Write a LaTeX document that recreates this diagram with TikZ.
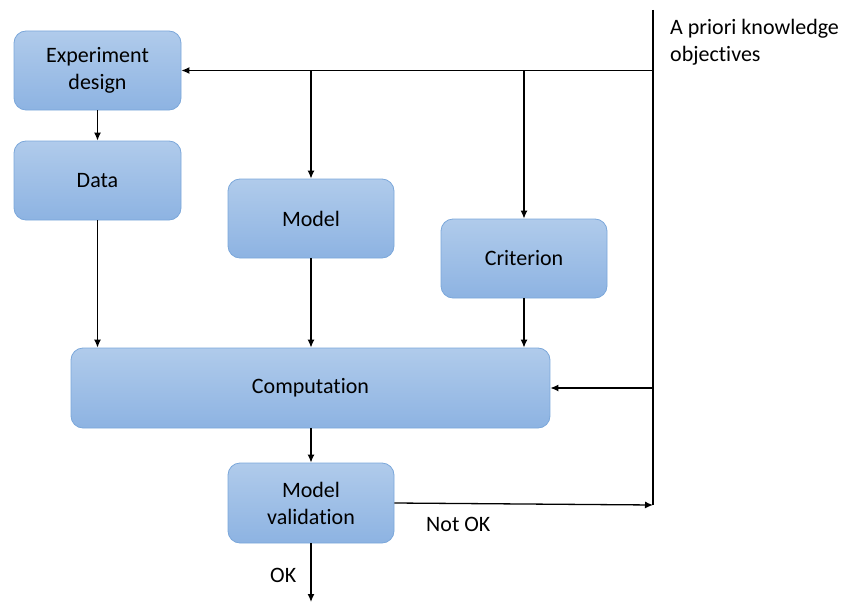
\documentclass[tikz,border=0pt]{standalone}
\usepackage{fontspec}
\setmainfont{Carlito}[Ligatures=NoCommon]
\usetikzlibrary{arrows.meta}
\begin{document}
\begin{tikzpicture}[x=1pt,y=-1pt,
  box/.style={draw=boxborder, line width=0.8pt, rounded corners=12pt, top color=boxtop, bottom color=boxbot, align=center, font=\fontsize{22}{27}\selectfont, inner sep=0pt},
  conn/.style={line width=1.3pt, -{Latex[length=8pt,width=7pt]}},
  wire/.style={line width=1.3pt},
  lbl/.style={font=\fontsize{22}{27}\selectfont, inner sep=0pt}]
\definecolor{boxtop}{HTML}{B0CBEB}
\definecolor{boxbot}{HTML}{8DB3E2}
\definecolor{boxborder}{HTML}{7BA7DA}
\useasboundingbox (0,0) rectangle (849,602);
\node[box, minimum width=167pt, minimum height=79pt] (exp) at (97.5,70.5) {Experiment\\design};
\node[box, minimum width=167pt, minimum height=79pt] (data) at (97.5,180.5) {Data};
\node[box, minimum width=166pt, minimum height=79pt] (model) at (311,218.5) {Model};
\node[box, minimum width=166pt, minimum height=79pt] (crit) at (524,258.5) {Criterion};
\node[box, minimum width=479pt, minimum height=80pt] (comp) at (310.5,388) {Computation};
\node[box, minimum width=166pt, minimum height=80pt] (val) at (311,503) {Model\\validation};
\coordinate (top) at (653,10);
\coordinate (jr) at (653,70.5);
\coordinate (jm) at (311,70.5);
\coordinate (jc) at (524,70.5);
\coordinate (jcomp) at (653,388);
\coordinate (jval) at (653,505);
\coordinate (out) at (311,602);
\draw[wire] (top) -- (jval);
\draw[conn] (jr) -- (exp.east);
\draw[conn] (jm) -- (model.north);
\draw[conn] (jc) -- (crit.north);
\draw[conn] (exp.south) -- (data.north);
\draw[conn] (data.south) -- (data.south |- comp.north);
\draw[conn] (model.south) -- (comp.north -| model.south);
\draw[conn] (crit.south) -- (comp.north -| crit.south);
\draw[conn] (jcomp) -- (comp.east);
\draw[conn] (comp.south -| val.north) -- (val.north);
\draw[conn] (val.east) -- (jval);
\draw[conn] (val.south) -- (out);
\node[lbl, anchor=north west, align=left] (apriori) at (670,19) {A priori knowledge\\objectives};
\node[lbl, anchor=west] (notok) at (426,524) {Not OK};
\node[lbl, anchor=west] (ok) at (270,575) {OK};
\end{tikzpicture}
\end{document}
